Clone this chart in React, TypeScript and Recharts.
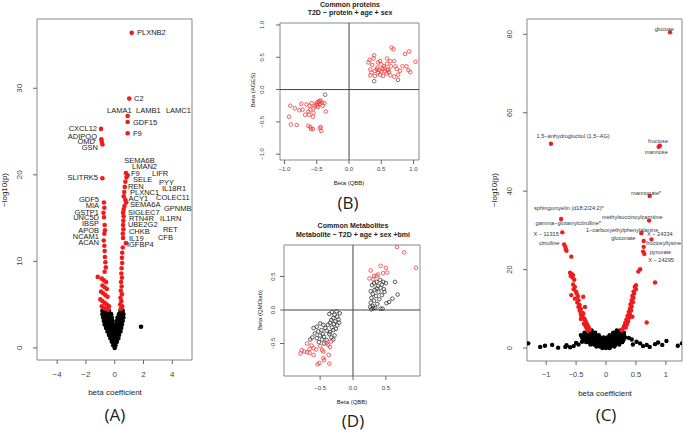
import { ScatterChart, Scatter, XAxis, YAxis, ReferenceArea, ReferenceLine } from 'recharts';

type Pt = [number, number];
type Lab = [number, number, string, string];

const FONT = '"Liberation Sans", Arial, sans-serif';

// (A) proteins volcano: beta coefficient vs -log10(p)
const aXTicks = [-4, -2, 0, 2, 4];
const aYTicks = [0, 10, 20, 30];
const aBlack: Pt[] = [
  [-0.85, 4.3], [-0.7, 4.3], [-0.55, 4.3], [-0.4, 4.3], [0.4, 4.3], [0.55, 4.3],
  [-0.85, 3.9], [-0.7, 3.9], [-0.55, 3.9], [-0.4, 3.9], [-0.25, 3.9], [0.3, 3.9], [0.45, 3.9], [0.6, 3.9],
  [-0.8, 3.5], [-0.65, 3.5], [-0.5, 3.5], [-0.35, 3.5], [-0.2, 3.5], [0.2, 3.5], [0.35, 3.5], [0.5, 3.5], [0.6, 3.5],
  [-0.75, 3.1], [-0.6, 3.1], [-0.45, 3.1], [-0.3, 3.1], [-0.15, 3.1], [0.15, 3.1], [0.3, 3.1], [0.45, 3.1], [0.55, 3.1],
  [-0.7, 2.7], [-0.55, 2.7], [-0.4, 2.7], [-0.25, 2.7], [-0.1, 2.7], [0.1, 2.7], [0.25, 2.7], [0.4, 2.7], [0.5, 2.7],
  [-0.6, 2.3], [-0.45, 2.3], [-0.3, 2.3], [-0.15, 2.3], [0.0, 2.3], [0.15, 2.3], [0.3, 2.3], [0.45, 2.3],
  [-0.5, 1.9], [-0.35, 1.9], [-0.2, 1.9], [-0.05, 1.9], [0.1, 1.9], [0.25, 1.9], [0.4, 1.9],
  [-0.4, 1.5], [-0.25, 1.5], [-0.1, 1.5], [0.05, 1.5], [0.2, 1.5], [0.3, 1.5],
  [-0.3, 1.1], [-0.15, 1.1], [0.0, 1.1], [0.15, 1.1], [0.25, 1.1],
  [-0.2, 0.7], [-0.05, 0.7], [0.1, 0.7], [0.15, 0.7],
  [-0.1, 0.3], [0.05, 0.3], [0.0, 0.0],
  [1.83, 2.45],
];
const aRed: Pt[] = [
  [1.18, 36.4], [1.01, 28.8], [0.9, 26.8], [0.9, 26.1], [0.9, 24.8],
  [-0.95, 25.3], [-0.93, 24.1], [-0.9, 23.8], [-0.85, 23.5], [-0.86, 19.6],
  [-0.75, 16.8], [-0.72, 16.2], [-0.78, 15.6], [-0.74, 15.1], [-0.7, 14.2], [-0.68, 13.6], [-0.72, 13.2],
  [-0.76, 12.4], [-0.72, 11.8], [-0.7, 11.2], [-0.68, 10.5], [-0.65, 9.9], [-0.62, 9.3], [-0.7, 8.8],
  [-1.18, 8.2], [-0.9, 8.0], [-0.75, 7.8], [-0.6, 7.6], [-0.85, 7.2], [-0.7, 7.0], [-0.55, 6.8],
  [-0.95, 6.5], [-0.8, 6.3], [-0.65, 6.1], [-0.5, 5.9], [-1.0, 5.6], [-0.85, 5.4], [-0.7, 5.2],
  [-0.55, 5.0], [-0.4, 4.8], [-0.9, 4.8], [-0.75, 4.6], [-0.6, 4.5], [-0.45, 4.4],
  [0.78, 20.2], [0.9, 19.95], [0.82, 19.7], [0.74, 19.2], [0.7, 18.6], [0.66, 18.0], [0.63, 17.5],
  [0.74, 17.1], [0.8, 16.8], [0.68, 16.4], [0.62, 16.0], [0.58, 15.6], [0.62, 15.2], [0.6, 14.7],
  [0.58, 14.2], [0.6, 13.7], [0.56, 13.2], [0.58, 12.7], [0.78, 12.1], [0.56, 11.6], [0.52, 11.0],
  [0.5, 10.4], [0.52, 9.8], [0.48, 9.2], [0.46, 8.6], [0.5, 8.1], [0.44, 7.6], [0.48, 7.1],
  [0.42, 6.6], [0.5, 6.2], [0.4, 5.8], [0.46, 5.4], [0.38, 5.0], [0.52, 4.8], [0.42, 4.5],
];
const aLabels: Lab[] = [
  [1.55, 36.45, 'PLXNB2', 'start'], [1.34, 28.8, 'C2', 'start'],
  [-0.53, 27.45, 'LAMA1', 'start'], [1.48, 27.45, 'LAMB1', 'start'], [3.56, 27.45, 'LAMC1', 'start'],
  [1.27, 26.07, 'GDF15', 'start'], [1.27, 24.8, 'F9', 'start'],
  [-1.23, 25.4, 'CXCL12', 'end'], [-1.23, 24.45, 'ADIPOQ', 'end'], [-1.37, 23.9, 'OMD', 'end'],
  [-1.16, 23.2, 'GSN', 'end'], [-1.16, 19.7, 'SLITRK5', 'end'],
  [0.67, 21.7, 'SEMA6B', 'start'], [1.2, 20.9, 'LMAN2', 'start'], [1.13, 20.1, 'F9', 'start'],
  [2.59, 20.1, 'LIFR', 'start'], [1.27, 19.4, 'SELE', 'start'], [3.08, 19.15, 'PYY', 'start'],
  [0.92, 18.7, 'REN', 'start'], [3.28, 18.45, 'IL18R1', 'start'], [1.06, 18.0, 'PLXNC1', 'start'],
  [2.87, 17.4, 'COLEC11', 'start'], [0.96, 17.3, 'ACY1', 'start'], [1.06, 16.6, 'SEMA6A', 'start'],
  [3.42, 16.15, 'GPNMB', 'start'], [0.92, 15.7, 'SIGLEC7', 'start'], [0.99, 14.9, 'RTN4R', 'start'],
  [3.15, 15.0, 'IL1RN', 'start'], [0.92, 14.2, 'UBE2G2', 'start'], [3.35, 13.7, 'RET', 'start'],
  [0.99, 13.4, 'CHKB', 'start'], [3.0, 12.7, 'CFB', 'start'], [0.99, 12.6, 'IL19', 'start'],
  [0.85, 11.9, 'IGFBP4', 'start'],
  [-1.09, 17.2, 'GDF5', 'end'], [-1.09, 16.5, 'MIA', 'end'], [-1.09, 15.7, 'GSTP1', 'end'],
  [-1.09, 15.1, 'UNC5D', 'end'], [-1.09, 14.4, 'IBSP', 'end'], [-1.09, 13.6, 'APOB', 'end'],
  [-1.09, 12.9, 'NCAM1', 'end'], [-1.09, 12.2, 'ACAN', 'end'],
];

// (B) common proteins: Beta (QBB) vs Beta (AGES)
const bTicks = [-1, -0.5, 0, 0.5, 1];
const bRed: Pt[] = [
  [0.66, 0.65], [0.69, 0.625], [0.93, 0.59], [0.87, 0.55], [0.39, 0.53], [1.03, 0.43], [0.32, 0.46],
  [0.3, 0.42], [0.38, 0.48], [0.48, 0.44], [0.59, 0.48], [0.64, 0.44], [0.7, 0.44], [0.5, 0.39],
  [0.59, 0.4], [0.83, 0.36], [0.89, 0.36], [0.33, 0.31], [0.43, 0.31], [0.52, 0.32], [0.61, 0.31],
  [0.74, 0.32], [0.79, 0.29], [0.95, 0.27], [0.35, 0.26], [0.4, 0.29], [0.45, 0.26], [0.56, 0.28],
  [0.58, 0.25], [0.48, 0.23], [0.33, 0.22], [0.4, 0.21], [0.53, 0.21], [0.64, 0.22], [0.7, 0.2],
  [0.76, 0.23], [0.44, 0.34], [0.54, 0.36], [0.65, 0.36], [0.45, 0.42], [0.72, 0.36], [0.5, 0.28],
  [0.47, 0.3], [0.55, 0.33], [0.62, 0.27], [0.92, 0.3], [0.36, 0.38], [0.6, 0.3],
  [-0.46, -0.18], [-0.5, -0.2], [-0.42, -0.2], [-0.44, -0.17], [-0.58, -0.21], [-0.38, -0.21],
  [-0.51, -0.23], [-0.66, -0.23], [-0.74, -0.22], [-0.91, -0.25], [-0.48, -0.27], [-0.55, -0.29],
  [-0.6, -0.31], [-0.84, -0.29], [-0.72, -0.31], [-0.77, -0.32], [-0.63, -0.34], [-0.36, -0.34],
  [-0.55, -0.36], [-0.68, -0.39], [-0.56, -0.42], [-0.93, -0.42], [-0.9, -0.54], [-0.81, -0.55],
  [-0.63, -0.56], [-0.6, -0.58], [-0.45, -0.6], [-0.56, -0.61], [-0.43, -0.64], [-0.44, -0.58],
  [-0.59, -0.61], [-0.47, -0.19], [-0.45, -0.22], [-0.49, -0.24], [-0.53, -0.26], [-0.61, -0.25],
  [-0.41, -0.25], [-0.62, -0.39],
];
const bGray: Pt[] = [[0.39, 0.13], [0.76, 0.15], [-0.37, -0.08]];

// (D) common metabolites: Beta (QBB) vs Beta (QMDiab)
const dTicks = [-0.5, 0, 0.5];
const dRed: Pt[] = [
  [0.67, 0.94], [0.78, 0.86], [0.96, 0.63], [0.42, 0.66], [0.5, 0.63], [0.27, 0.59], [0.52, 0.56],
  [0.46, 0.55], [0.38, 0.53], [0.32, 0.51], [0.25, 0.47], [0.31, 0.46], [0.36, 0.51],
  [-0.7, -0.5], [-0.6, -0.57], [-0.78, -0.6], [-0.74, -0.62], [-0.7, -0.63], [-0.66, -0.64],
  [-0.8, -0.65], [-0.6, -0.67], [-0.47, -0.6], [-0.45, -0.72], [-0.37, -0.67], [-0.51, -0.79],
  [-0.54, -0.81], [-0.36, -0.8], [-0.4, -0.49], [-0.33, -0.47], [-0.63, -0.53], [-0.5, -0.54],
  [-0.45, -0.62], [-0.44, -0.75], [-0.56, -0.59], [-0.35, -0.55], [-0.38, -0.52], [-0.66, -0.58],
];
const dBlack: Pt[] = [
  [0.41, 0.45], [0.46, 0.42], [0.36, 0.42], [0.44, 0.38], [0.5, 0.4], [0.38, 0.36], [0.29, 0.37],
  [0.42, 0.33], [0.47, 0.31], [0.33, 0.3], [0.27, 0.28], [0.39, 0.27], [0.3, 0.24], [0.44, 0.22],
  [0.35, 0.21], [0.28, 0.18], [0.4, 0.16], [0.32, 0.14], [0.27, 0.11], [0.37, 0.09], [0.3, 0.06],
  [0.34, 0.03], [0.28, 0.01], [0.42, 0.02], [0.45, 0.02], [0.64, 0.42], [0.68, 0.23], [0.6, 0.17],
  [0.55, 0.12], [0.51, 0.1], [0.31, 0.03], [0.26, 0.05], [0.48, 0.27], [0.36, 0.32], [0.32, 0.4],
  [-0.25, -0.02], [-0.32, -0.03], [-0.2, -0.05], [-0.28, -0.07], [-0.36, -0.06], [-0.24, -0.1],
  [-0.3, -0.12], [-0.22, -0.14], [-0.33, -0.15], [-0.27, -0.17], [-0.21, -0.19], [-0.35, -0.19],
  [-0.29, -0.21], [-0.24, -0.23], [-0.38, -0.22], [-0.45, -0.22], [-0.5, -0.2], [-0.55, -0.25],
  [-0.42, -0.27], [-0.32, -0.26], [-0.6, -0.27], [-0.48, -0.3], [-0.53, -0.32], [-0.4, -0.31],
  [-0.3, -0.3], [-0.58, -0.35], [-0.46, -0.36], [-0.5, -0.38], [-0.44, -0.4], [-0.36, -0.36],
  [-0.62, -0.41], [-0.55, -0.42], [-0.47, -0.44], [-0.3, -0.44], [-0.33, -0.41], [-0.4, -0.45],
  [-0.52, -0.48], [-0.44, -0.5], [-0.65, -0.44], [-0.28, -0.38], [-0.26, -0.28], [-0.35, -0.33],
];

// (C) metabolites volcano
const cXTicks = [-1, -0.5, 0, 0.5, 1];
const cYTicks = [0, 20, 40, 60, 80];
const cBlack: Pt[] = [
  [-0.3, 4.5], [-0.24, 4.5], [0.18, 4.5], [0.24, 4.5],
  [-0.36, 3.9], [-0.3, 3.9], [-0.24, 3.9], [-0.18, 3.9], [0.12, 3.9], [0.18, 3.9], [0.24, 3.9], [0.3, 3.9],
  [-0.42, 3.3], [-0.36, 3.3], [-0.3, 3.3], [-0.24, 3.3], [-0.18, 3.3], [-0.12, 3.3],
  [0.06, 3.3], [0.12, 3.3], [0.18, 3.3], [0.24, 3.3], [0.3, 3.3],
  [-0.4, 2.7], [-0.34, 2.7], [-0.28, 2.7], [-0.22, 2.7], [-0.16, 2.7], [-0.1, 2.7], [-0.04, 2.7],
  [0.02, 2.7], [0.08, 2.7], [0.14, 2.7], [0.2, 2.7], [0.26, 2.7], [0.32, 2.7],
  [-0.38, 2.1], [-0.32, 2.1], [-0.26, 2.1], [-0.2, 2.1], [-0.14, 2.1], [-0.08, 2.1], [-0.02, 2.1],
  [0.04, 2.1], [0.1, 2.1], [0.16, 2.1], [0.22, 2.1], [0.28, 2.1],
  [-0.33, 1.5], [-0.27, 1.5], [-0.21, 1.5], [-0.15, 1.5], [-0.09, 1.5], [-0.03, 1.5],
  [0.03, 1.5], [0.09, 1.5], [0.15, 1.5], [0.21, 1.5], [0.27, 1.5],
  [-0.26, 0.9], [-0.2, 0.9], [-0.14, 0.9], [-0.08, 0.9], [-0.02, 0.9], [0.04, 0.9], [0.1, 0.9],
  [0.16, 0.9], [0.22, 0.9],
  [-0.16, 0.4], [-0.1, 0.4], [-0.04, 0.4], [0.02, 0.4], [0.08, 0.4], [0.14, 0.4],
  [-0.06, 0.0], [0.0, 0.0], [0.06, 0.0],
  [-1.3, 1.2], [-1.1, 0.3], [-1.02, 0.6], [-0.9, 0.8], [-0.8, 0.1], [-0.68, 0.3], [-0.66, 0.7],
  [-0.6, 0.2], [-0.54, 0.5], [-0.5, 1.3], [-0.46, 0.9], [-0.4, 1.6], [-0.35, 2.5], [-0.29, 1.6],
  [0.29, 2.0], [0.38, 2.6], [0.43, 2.2], [0.45, 0.9], [0.51, 1.6], [0.57, 1.2], [0.62, 0.5],
  [0.68, 0.8], [0.73, 0.3], [0.82, 1.0], [0.87, 1.4], [0.94, 0.8], [1.01, 1.8], [1.2, 0.6], [1.27, 1.2],
];
const cRed: Pt[] = [
  [1.07, 80.5], [-0.92, 52.1], [0.9, 51.6], [0.88, 51.3], [0.73, 38.8], [-0.75, 32.9], [-0.73, 29.5],
  [0.72, 32.5], [0.59, 29.3], [0.63, 27.3], [0.76, 27.7], [0.63, 25.8], [0.62, 24.6], [0.64, 24.0],
  [-0.7, 26.4], [-0.68, 25.8], [-0.67, 25.2], [-0.66, 24.8],
  [-0.58, 23.3], [-0.6, 19.2], [-0.57, 18.8], [-0.59, 18.4], [-0.55, 18.6], [-0.56, 18.0], [-0.53, 17.4],
  [-0.55, 16.2], [-0.52, 15.6], [-0.54, 15.0], [-0.5, 14.4], [-0.58, 13.5], [-0.38, 13.1], [-0.49, 13.9],
  [-0.47, 13.2], [-0.52, 12.6], [-0.46, 12.2], [-0.48, 11.6], [-0.44, 11.0], [-0.46, 10.5], [-0.35, 10.5],
  [-0.42, 10.0], [-0.44, 9.5], [-0.4, 9.0], [-0.42, 8.5], [-0.38, 8.8], [-0.39, 8.0], [-0.36, 7.5],
  [-0.42, 7.4], [-0.35, 7.0], [-0.33, 6.5], [-0.37, 6.2], [-0.31, 5.9], [-0.34, 5.5], [-0.29, 5.3],
  [-0.32, 5.0], [-0.27, 4.7], [-0.3, 4.4],
  [0.57, 20.1], [0.54, 19.5], [0.82, 16.7], [0.5, 16.0], [0.48, 15.6], [0.5, 15.0], [0.46, 14.4],
  [0.47, 13.9], [0.44, 13.3], [0.46, 12.8], [0.43, 12.2], [0.45, 11.7], [0.41, 11.2], [0.43, 10.6],
  [0.4, 10.1], [0.42, 9.6], [0.38, 9.2], [0.4, 8.7], [0.36, 8.2], [0.39, 7.7], [0.34, 7.2], [0.37, 6.8],
  [0.32, 6.4], [0.35, 6.0], [0.3, 5.6], [0.33, 5.2], [0.28, 4.9], [0.26, 4.5], [0.68, 6.5], [0.44, 8.0],
];
const cLabels: Lab[] = [
  [0.975, 81.4, 'glucose', 'middle'], [-0.55, 54.1, '1,5−anhydroglucitol (1,5−AG)', 'middle'],
  [0.87, 52.7, 'fructose', 'middle'], [0.84, 50.1, 'mannose', 'middle'], [0.67, 39.6, 'mannonate*', 'middle'],
  [-0.62, 35.6, 'sphingomyelin (d18:2/24:2)*', 'middle'], [-0.63, 32.0, 'gamma−glutamylcitrulline*', 'middle'],
  [-1.0, 29.0, 'X − 11315', 'middle'], [-0.95, 26.7, 'citrulline', 'middle'],
  [0.44, 33.5, 'methylsuccinoylcarnitine', 'middle'], [0.27, 30.1, '1−carboxyethylphenylalanine', 'middle'],
  [0.29, 28.0, 'gluconate', 'middle'], [0.9, 29.0, 'X − 24334', 'middle'],
  [0.96, 26.7, 'fructosyllysine', 'middle'], [0.91, 24.5, 'pyruvate', 'middle'], [0.92, 22.4, 'X − 24295', 'middle'],
];

const pts = (arr: Pt[]) => arr.map(([x, y]) => ({ x, y }));
const labs = (arr: Lab[]) => arr.map(([x, y, t, a]) => ({ x, y, t, a }));

const dot = (fill: string, r: number) => (p: any) => <circle cx={p.cx} cy={p.cy} r={r} fill={fill} />;
const ring = (stroke: string) => (p: any) => (
  <circle cx={p.cx} cy={p.cy} r={1.8} fill="none" stroke={stroke} strokeWidth={0.8} />
);
const label = (fs: number, color: string) => (p: any) => (
  <text x={p.cx} y={p.cy} textAnchor={p.payload.a} dominantBaseline="central" fontSize={fs} fill={color} fontFamily={FONT}>
    {p.payload.t}
  </text>
);

const fmt = (dec: number) => (v: number) => (dec ? v.toFixed(dec) : String(v)).replace('-', '−');

const xTick = (off: number, fs: number, dec: number) => (p: any) => (
  <text x={p.x} y={p.y + off} textAnchor="middle" dominantBaseline="central" fontSize={fs} fill="#444" fontFamily={FONT}>
    {fmt(dec)(p.payload.value)}
  </text>
);
const yTick = (off: number, fs: number, dec: number) => (p: any) => (
  <text
    x={p.x - off}
    y={p.y}
    transform={`rotate(-90 ${p.x - off} ${p.y})`}
    textAnchor="middle"
    dominantBaseline="central"
    fontSize={fs}
    fill="#444"
    fontFamily={FONT}
  >
    {fmt(dec)(p.payload.value)}
  </text>
);

interface PanelProps {
  left: number; top: number; w: number; h: number; mt: number; mr: number; yw: number; xh: number;
  xd: [number, number]; yd: [number, number]; xt: number[]; yt: number[];
  fs: number; xo: number; yo: number; dec: number; cross?: boolean; children: any;
}

const Panel = (p: PanelProps) => (
  <div style={{ position: 'absolute', left: p.left, top: p.top }}>
    <ScatterChart width={p.w} height={p.h} margin={{ top: p.mt, right: p.mr, bottom: 0, left: 0 }}>
      <XAxis type="number" dataKey="x" domain={p.xd} ticks={p.xt} interval={0} allowDataOverflow
        axisLine={false} tickLine={{ stroke: '#666' }} tickSize={4} tickMargin={0} height={p.xh}
        tick={xTick(p.xo, p.fs, p.dec)} />
      <YAxis type="number" dataKey="y" domain={p.yd} ticks={p.yt} interval={0} allowDataOverflow
        axisLine={false} tickLine={{ stroke: '#666' }} tickSize={4} tickMargin={0} width={p.yw}
        tick={yTick(p.yo, p.fs, p.dec)} />
      <ReferenceArea x1={p.xd[0]} x2={p.xd[1]} y1={p.yd[0]} y2={p.yd[1]} fill="none" fillOpacity={0} stroke="#888" strokeWidth={1} />
      {p.cross && <ReferenceLine x={0} stroke="#444" />}
      {p.cross && <ReferenceLine y={0} stroke="#444" />}
      {p.children}
    </ScatterChart>
  </div>
);

const Txt = ({ x, y, s, rot, bold, fam, children }: any) => (
  <div
    style={{
      position: 'absolute', left: x, top: y, whiteSpace: 'nowrap', lineHeight: 1, color: '#222',
      transform: `translate(-50%, -50%)${rot ? ' rotate(-90deg)' : ''}`,
      fontSize: s, fontWeight: bold ? 700 : 400, fontFamily: fam || FONT,
    }}
  >
    {children}
  </div>
);

const LETTER = '"Open Sans", "Noto Sans", sans-serif';

export default function App() {
  return (
    <div style={{ position: 'absolute', left: 0, top: 0, width: 683, height: 430, background: '#fff', overflow: 'hidden' }}>
      <Panel left={0} top={0} w={200} h={400} mt={19} mr={8} yw={37} xh={40}
        xd={[-5.4, 5.37]} yd={[-1.4, 38]} xt={aXTicks} yt={aYTicks} fs={8} xo={10} yo={13} dec={0}>
        <Scatter data={pts(aBlack)} shape={dot('#000', 2.3)} isAnimationActive={false} />
        <Scatter data={pts(aRed)} shape={dot('#ee1c1c', 2.3)} isAnimationActive={false} />
        <Scatter data={labs(aLabels)} shape={label(7.5, '#1a1a1a')} isAnimationActive={false} />
      </Panel>
      <Txt x={5} y={190} s={8} rot>−log10(p)</Txt>
      <Txt x={115} y={393} s={8}>beta coefficient</Txt>
      <Txt x={115} y={414} s={17} fam={LETTER}>(A)</Txt>

      <Panel left={230} top={0} w={200} h={190} mt={23} mr={11} yw={50} xh={30}
        xd={[-1.07, 1.085]} yd={[-1.09, 1.03]} xt={bTicks} yt={bTicks} fs={6} xo={5} yo={14} dec={1} cross>
        <Scatter data={pts(bRed)} shape={ring('#f03a3a')} isAnimationActive={false} />
        <Scatter data={pts(bGray)} shape={ring('#555')} isAnimationActive={false} />
      </Panel>
      <Txt x={350} y={4} s={7} bold>Common proteins</Txt>
      <Txt x={350} y={12} s={7} bold>T2D ~ protein + age + sex</Txt>
      <Txt x={253} y={90} s={6} rot>Beta (AGES)</Txt>
      <Txt x={349} y={183} s={6}>Beta (QBB)</Txt>
      <Txt x={348} y={202} s={17} fam={LETTER}>(B)</Txt>

      <Panel left={230} top={215} w={200} h={191} mt={30} mr={10} yw={54} xh={30}
        xd={[-1.05, 1.02]} yd={[-0.985, 0.97]} xt={dTicks} yt={dTicks} fs={6} xo={8} yo={7} dec={1} cross>
        <Scatter data={pts(dBlack)} shape={ring('#333')} isAnimationActive={false} />
        <Scatter data={pts(dRed)} shape={ring('#f03a3a')} isAnimationActive={false} />
      </Panel>
      <Txt x={353} y={225} s={7} bold>Common Metabolites</Txt>
      <Txt x={353} y={234} s={7} bold>Metabolite ~ T2D + age + sex +bmi</Txt>
      <Txt x={260} y={310} s={6} rot>Beta (QMDiab)</Txt>
      <Txt x={352} y={402} s={6}>Beta (QBB)</Txt>
      <Txt x={353} y={420} s={17} fam={LETTER}>(D)</Txt>

      <Panel left={450} top={0} w={233} h={401} mt={19} mr={1} yw={77} xh={40}
        xd={[-1.32, 1.27]} yd={[-3.3, 83.9]} xt={cXTicks} yt={cYTicks} fs={7.5} xo={9} yo={13} dec={0}>
        <Scatter data={pts(cBlack)} shape={dot('#000', 2.2)} isAnimationActive={false} />
        <Scatter data={pts(cRed)} shape={dot('#ee1c1c', 2.2)} isAnimationActive={false} />
        <Scatter data={labs(cLabels)} shape={label(5.6, '#333')} isAnimationActive={false} />
      </Panel>
      <Txt x={495} y={190} s={8} rot>−log10(p)</Txt>
      <Txt x={605} y={394} s={8}>beta coefficient</Txt>
      <Txt x={606} y={414} s={17} fam={LETTER}>(C)</Txt>
    </div>
  );
}
